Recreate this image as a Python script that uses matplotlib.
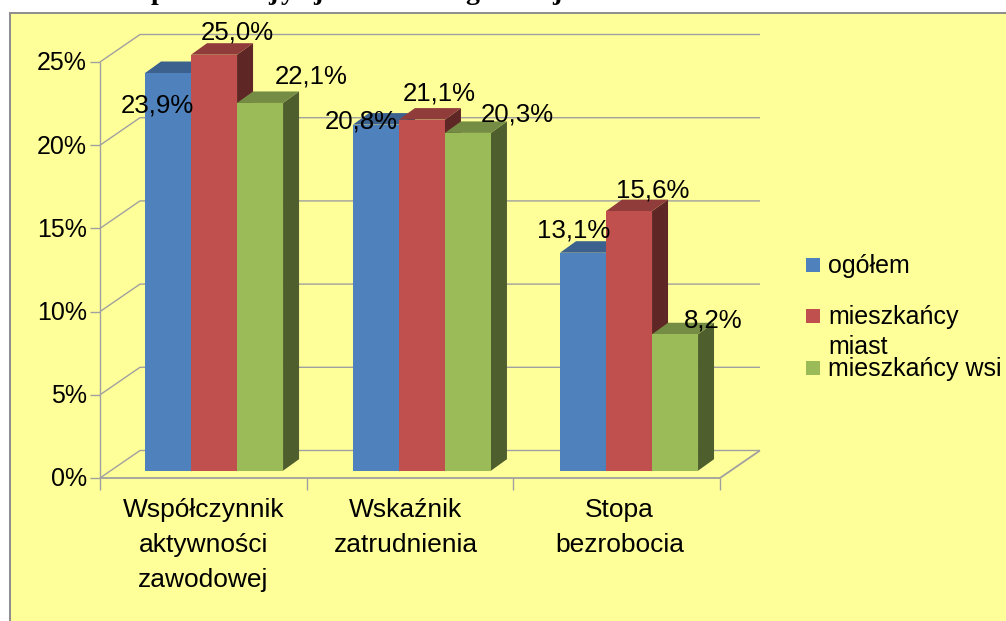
import matplotlib
matplotlib.use("Agg")
import matplotlib.pyplot as plt
from matplotlib.patches import Polygon, Rectangle

plt.rcParams['font.family'] = ['Liberation Sans', 'DejaVu Sans']

categories = ["Współczynnik\naktywności\nzawodowej", "Wskaźnik\nzatrudnienia", "Stopa\nbezrobocia"]
series_names = ["ogółem", "mieszkańcy\nmiast", "mieszkańcy wsi"]
ogolem = [23.9, 20.8, 13.1]
miasta = [25.0, 21.1, 15.6]
wies = [22.1, 20.3, 8.2]
y_ticks = [0, 5, 10, 15, 20, 25]

front = ["#4F81BD", "#C0504D", "#9BBB59"]
top = ["#3C618E", "#903C3A", "#748C43"]
side = ["#2F4C70", "#5E2725", "#4F5E2D"]
bg = "#FFFF99"
grid = "#A0A0A0"

W, H = 1006, 621
fig = plt.figure(figsize=(W / 100, H / 100), dpi=100, facecolor="white")
fig.add_artist(Rectangle((10 / W, -0.01), 1.1, (621 - 13) / H + 0.01, transform=fig.transFigure,
                         fc=bg, ec="#8C8C8C", lw=1.4, zorder=-5))

ax = fig.add_axes([100 / W, (H - 478) / H, 620 / W, 416 / H])
ax.set_xlim(0, 3)
ax.set_ylim(0, 25)
ax.patch.set_alpha(0)
for s in ax.spines.values():
    s.set_visible(False)
ax.set_xticks([])
ax.set_yticks([])

# oblique depth of the plot box and of the bars, in data units
dx = 40 / 620 * 3
dy = 27.5 / 416 * 25
bar_dx = 16 / 620 * 3
bar_dy = 11.5 / 416 * 25
yb = 7.3 / 416 * 25
bar_w = 46 / 620 * 3
starts = [0.218, 1.224, 2.226]


def line(xs, ys, lw=1.0):
    ax.plot(xs, ys, color=grid, lw=lw, clip_on=False, zorder=1, solid_capstyle="butt")


# back wall + floor
for t in y_ticks:
    line([0, dx, 3 + dx], [t, t + dy, t + dy])
    line([-10 / 620 * 3, 0], [t, t])
line([0, 0], [0, 25])
line([0, 3, 3 + dx], [0, 0, dy], 1.3)
for c in range(4):
    line([c, c], [0, -12 / 416 * 25])

series = [ogolem, miasta, wies]
for g in range(3):
    for i in range(3):
        v = series[i][g]
        x0 = starts[g] + i * bar_w
        x1 = x0 + bar_w
        z = 3 + g * 3 + i
        ax.add_patch(Polygon([(x1, yb), (x1 + bar_dx, yb + bar_dy), (x1 + bar_dx, yb + v + bar_dy), (x1, yb + v)],
                             fc=side[i], ec="none", clip_on=False, zorder=z))
        ax.add_patch(Polygon([(x0, yb + v), (x0 + bar_dx, yb + v + bar_dy), (x1 + bar_dx, yb + v + bar_dy), (x1, yb + v)],
                             fc=top[i], ec="none", clip_on=False, zorder=z))
        ax.add_patch(Rectangle((x0, yb), bar_w, v, fc=front[i], ec="none", clip_on=False, zorder=z + 0.5))

# label nudges in pixels from the top centre of each bar, one row per series
nudge = [[(-11, -44), (-15, -9), (-9, 10)],
         [(23, 10), (17, 14), (24, 9)],
         [(51, 14), (49, 6), (38, 2)]]
for i in range(3):
    for g in range(3):
        v = series[i][g]
        xc = starts[g] + (i + 0.5) * bar_w
        ax.annotate(f"{v:.1f}%".replace(".", ","), (xc, yb + v), xytext=nudge[i][g], textcoords="offset pixels",
                    ha="center", va="bottom", fontsize=18.6, color="black", zorder=40, annotation_clip=False)

for t in y_ticks:
    ax.annotate(f"{t}%", (0, t), xytext=(-13, -1.5), textcoords="offset pixels", ha="right", va="center",
                fontsize=18, annotation_clip=False)

cat_nudge = [0, -4, 3]
for c, name in enumerate(categories):
    ax.annotate(name, (c + 0.5, 0), xytext=(cat_nudge[c], -20), textcoords="offset pixels", ha="center", va="top",
                fontsize=19, linespacing=1.57, annotation_clip=False)

# legend
leg_y = [265, 316, 368]
for i, name in enumerate(series_names):
    fig.add_artist(Rectangle((806 / W, 1 - (leg_y[i] + 7) / H), 14 / W, 14 / H, transform=fig.transFigure,
                             fc=front[i], ec="none"))
    fig.text(828 / W, 1 - (leg_y[i] - 11) / H, name, ha="left", va="top", fontsize=18, linespacing=1.3)

# only the descenders of the cropped title survive in the picture
title_bits = ["p", "j", "y", "j", "g", "j"]
title_x = [158, 273, 288, 318, 472, 557]
for ch, x in zip(title_bits, title_x):
    fig.text(x / W, 1 + 1 / H, ch, fontname="Liberation Serif", fontweight="bold", fontsize=20,
             ha="center", va="baseline")

fig.savefig("out.png", dpi=100, facecolor="white")
